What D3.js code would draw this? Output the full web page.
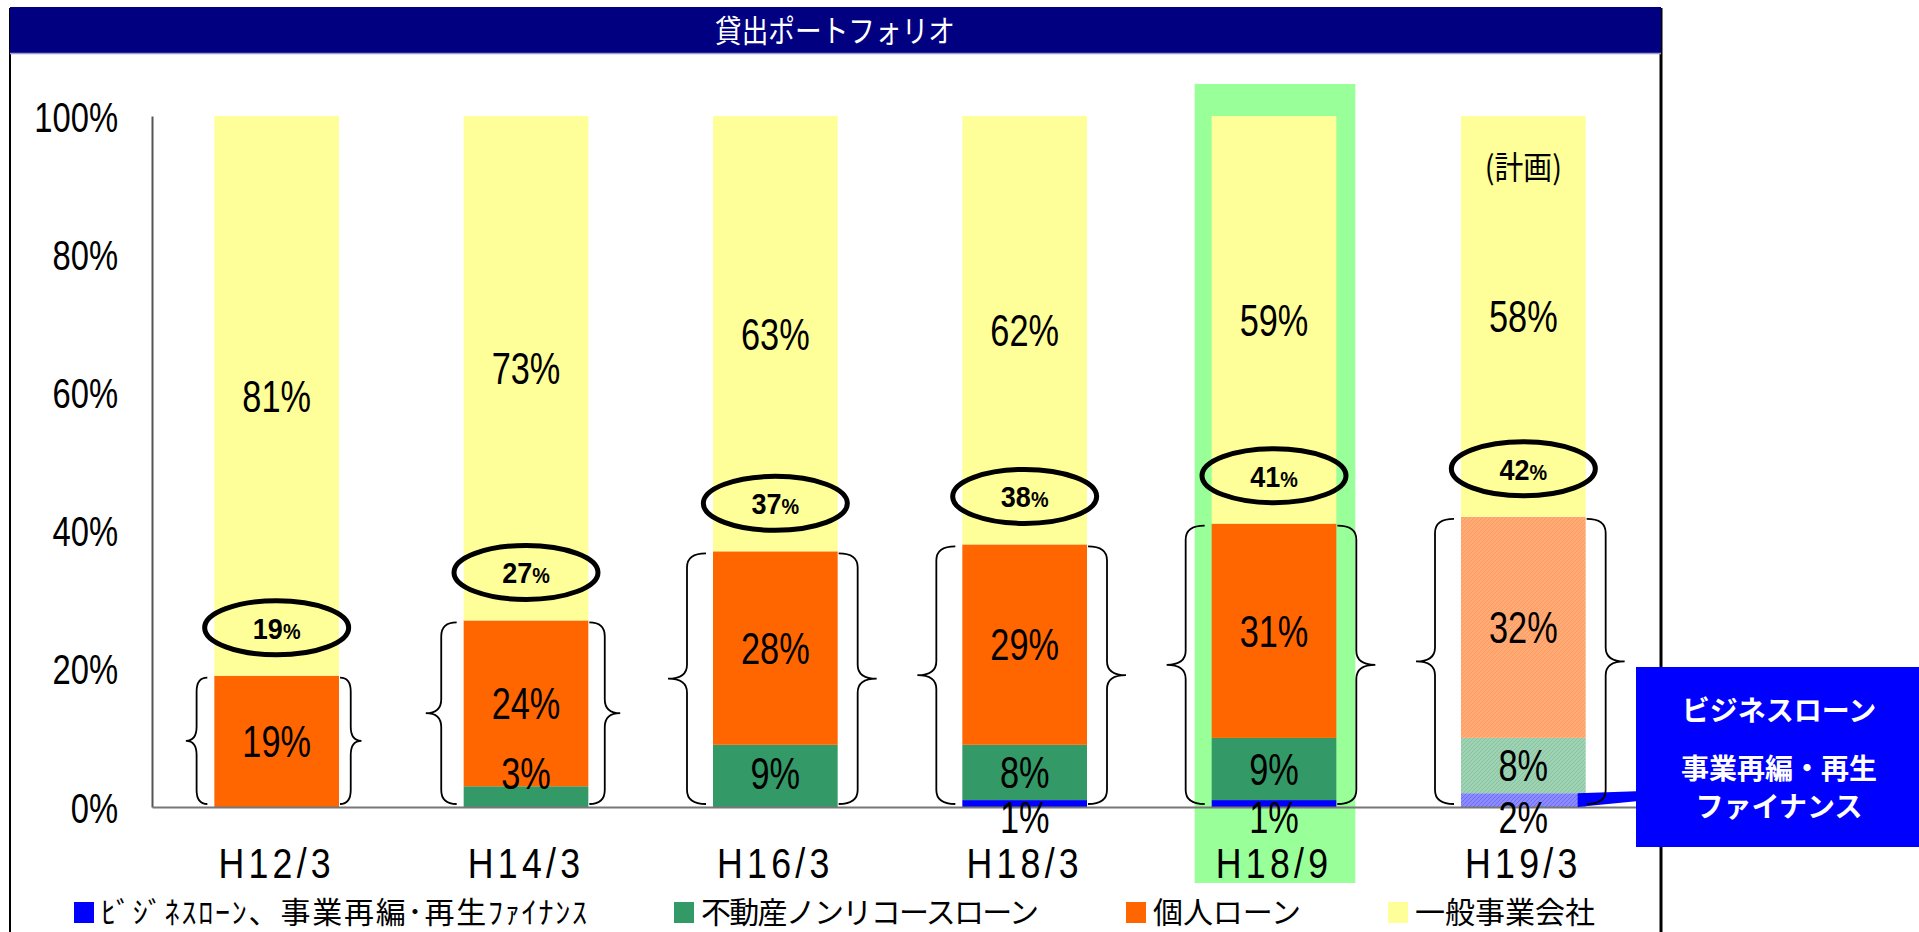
<!DOCTYPE html>
<html lang="ja">
<head>
<meta charset="utf-8">
<title>貸出ポートフォリオ</title>
<script src="https://d3js.org/d3.v7.min.js"></script>
<style>
    body { margin: 0; background: #fff; }
    svg { display: block; }
    .num { font-family: "Liberation Sans", Arial, sans-serif; fill: #000; }
    .jp { font-family: "Noto Sans CJK JP", sans-serif; }
</style>
</head>
<body>
<div id="chart"></div>
<script>
    "use strict"

    // data
    var categories = ["H12/3", "H14/3", "H16/3", "H18/3", "H18/9", "H19/3"];
    var bizLoan = [0, 0, 0, 1, 1, 2];          // ビジネスローン、事業再編・再生ファイナンス
    var nonRecourse = [0, 3, 9, 8, 9, 8];      // 不動産ノンリコースローン
    var personal = [19, 24, 28, 29, 31, 32];   // 個人ローン
    var general = [81, 73, 63, 62, 59, 58];    // 一般事業会社
    var totals = [19, 27, 37, 38, 41, 42];     // circled subtotals
    var yTicks = [0, 20, 40, 60, 80, 100];
    var seriesKeys = ["biz", "nonrec", "personal", "general"];
    var seriesNames = ["ﾋﾞｼﾞﾈｽﾛｰﾝ、事業再編･再生ﾌｧｲﾅﾝｽ", "不動産ノンリコースローン", "個人ローン", "一般事業会社"];
    var seriesColors = ["#0000ff", "#339966", "#ff6600", "#ffff99"];
    var planColors = ["#8c8cff", "#9fd1b3", "#ffab78", "#ffff99"];
    var highlightCat = "H18/9";
    var planCat = "H19/3";
    var planLabel = "(計画)";
    var title = "貸出ポートフォリオ";
    var calloutLines = ["ビジネスローン", "事業再編・再生", "ファイナンス"];

    var W = 1919, H = 932;

    var rows = categories.map(function (c, i) {
        return { cat: c, biz: bizLoan[i], nonrec: nonRecourse[i], personal: personal[i], general: general[i], total: totals[i] };
    });

    var svg = d3.select("#chart").append("svg")
        .attr("width", W).attr("height", H);

    // patterns for the planned bar
    var defs = svg.append("defs");
    seriesKeys.forEach(function (k, i) {
        var p = defs.append("pattern")
            .attr("id", "plan-" + k)
            .attr("width", 4).attr("height", 4)
            .attr("patternUnits", "userSpaceOnUse");
        p.append("rect").attr("width", 4).attr("height", 4).attr("fill", planColors[i]);
        p.append("path").attr("d", "M0,4L4,0M-1,1L1,-1M3,5L5,3")
            .attr("stroke", seriesColors[i]).attr("stroke-opacity", 0.3).attr("stroke-width", 0.8);
    });

    var x = d3.scaleBand().domain(categories).range([152, 1648]).paddingInner(0.5).paddingOuter(0.25);
    var y = d3.scaleLinear().domain([0, 100]).range([807, 116]);
    var bw = x.bandwidth();

    function ctext(parent, cx, cy, str, size, sx, cls) {
        return parent.append("text")
            .attr("class", cls || "num")
            .attr("text-anchor", "middle")
            .attr("transform", "translate(" + cx + "," + (cy + size * 0.36) + ") scale(" + sx + ",1)")
            .style("font-size", size + "px")
            .text(str);
    }

    // frame + title bar
    svg.append("line").attr("x1", 10).attr("x2", 10).attr("y1", 8).attr("y2", H)
        .attr("stroke", "#000").attr("stroke-width", 2);
    svg.append("line").attr("x1", 1661).attr("x2", 1661).attr("y1", 8).attr("y2", H)
        .attr("stroke", "#000").attr("stroke-width", 3);
    svg.append("rect").attr("x", 10).attr("y", 7).attr("width", 1651).attr("height", 46).attr("fill", "#000080");
    svg.append("line").attr("x1", 10).attr("x2", 1661).attr("y1", 53.5).attr("y2", 53.5)
        .attr("stroke", "#9a9ad8").attr("stroke-width", 1.5);
    svg.append("text")
        .attr("class", "jp")
        .attr("text-anchor", "middle")
        .attr("transform", "translate(835,42) scale(0.86,1)")
        .style("font-size", "31px").attr("fill", "#fff")
        .text(title);

    // highlight behind H18/9
    svg.append("rect")
        .attr("x", x(highlightCat) - 17).attr("y", y(100) - 32)
        .attr("width", bw + 36).attr("height", y(0) + 76 - (y(100) - 32))
        .attr("fill", "#99ff99");

    // stacked bars
    var stack = d3.stack().keys(seriesKeys)(rows);
    var plot = svg.append("g");
    stack.forEach(function (layer, si) {
        plot.append("g").selectAll("rect")
            .data(layer)
            .join("rect")
            .attr("x", function (d) { return x(d.data.cat); })
            .attr("y", function (d) { return y(d[1]); })
            .attr("width", bw)
            .attr("height", function (d) { return y(d[0]) - y(d[1]); })
            .attr("fill", function (d) {
                return d.data.cat === planCat ? "url(#plan-" + seriesKeys[si] + ")" : seriesColors[si];
            });
    });

    // axes
    var yAxis = svg.append("g").attr("transform", "translate(152,0)")
        .call(d3.axisLeft(y).tickValues(yTicks).tickSize(0).tickFormat(function (d) { return d + "%"; }));
    yAxis.select(".domain").attr("stroke", "#555").attr("stroke-width", 2);
    yAxis.selectAll(".tick text")
        .attr("class", "num")
        .attr("x", -34 / 0.78).attr("dy", "0.36em")
        .attr("transform", "scale(0.78,1)")
        .style("font-size", "42px").attr("fill", "#000");

    var xAxis = svg.append("g").attr("transform", "translate(0," + y(0) + ")")
        .call(d3.axisBottom(x).tickSize(0));
    xAxis.select(".domain").attr("stroke", "#777").attr("stroke-width", 2);
    xAxis.selectAll(".tick text")
        .attr("class", "num")
        .attr("y", 56).attr("dy", "0.36em")
        .attr("transform", "scale(0.85,1)")
        .style("font-size", "42px").style("letter-spacing", "5px").attr("fill", "#000");

    // segment labels
    var labels = svg.append("g");
    stack.forEach(function (layer, si) {
        layer.forEach(function (d) {
            var v = d[1] - d[0];
            if (!v) return;
            var cx = x(d.data.cat) + bw / 2;
            var cy = y((d[0] + d[1]) / 2);
            if (si === 0) cy = y(0) + 10;
            if (si === 1) cy = Math.min(cy, y(0) - 34);
            ctext(labels, cx, cy, v + "%", 44, 0.78);
        });
    });

    // planned note
    ctext(labels, x(planCat) + bw / 2, 166, planLabel, 32, 0.9, "jp").attr("dy", "0.05em");

    // circled subtotals
    rows.forEach(function (r) {
        var cx = x(r.cat) + bw / 2, cy = y(r.total) - 48;
        svg.append("ellipse").attr("cx", cx).attr("cy", cy).attr("rx", 72).attr("ry", 27)
            .attr("fill", "none").attr("stroke", "#000").attr("stroke-width", 5);
        var t = svg.append("text")
            .attr("class", "num")
            .attr("text-anchor", "middle")
            .attr("transform", "translate(" + cx + "," + (cy + 11) + ") scale(0.9,1)")
            .style("font-weight", "bold");
        t.append("tspan").style("font-size", "30px").text(r.total);
        t.append("tspan").style("font-size", "22px").text("%");
    });

    // callout connector (under the braces)
    var pr = x(planCat) + bw;
    var bizTop = y(bizLoan[categories.indexOf(planCat)]);
    svg.append("polygon")
        .attr("points", [[pr - 8, bizTop], [1636, bizTop - 2], [1636, bizTop + 8], [pr - 8, y(0)]].join(" "))
        .attr("fill", "#0000ff");

    // braces
    function brace(xe, xt, y0, y1) {
        var xm = (xe + xt) / 2, ym = (y0 + y1) / 2, r = Math.min(14, (y1 - y0) / 5);
        return "M" + xe + "," + y0 + "Q" + xm + "," + y0 + " " + xm + "," + (y0 + r) +
            "L" + xm + "," + (ym - r) + "Q" + xm + "," + ym + " " + xt + "," + ym +
            "Q" + xm + "," + ym + " " + xm + "," + (ym + r) +
            "L" + xm + "," + (y1 - r) + "Q" + xm + "," + y1 + " " + xe + "," + y1;
    }
    rows.forEach(function (r) {
        var y0 = y(r.total) + 2, y1 = y(0) - 3;
        var w = Math.min(38, 0.17 * (y1 - y0));
        var left = x(r.cat) - 7, right = x(r.cat) + bw + 1;
        svg.append("path").attr("d", brace(left, left - w, y0, y1))
            .attr("fill", "none").attr("stroke", "#000").attr("stroke-width", 1.8);
        svg.append("path").attr("d", brace(right, right + w, y0, y1))
            .attr("fill", "none").attr("stroke", "#000").attr("stroke-width", 1.8);
    });

    // callout box
    svg.append("rect").attr("x", 1636).attr("y", 667).attr("width", W - 1636).attr("height", 180).attr("fill", "#0000ff");
    var callY = [711, 769, 807];
    calloutLines.forEach(function (s, i) {
        svg.append("text")
            .attr("class", "jp")
            .attr("text-anchor", "middle")
            .attr("x", 1779).attr("y", callY[i] + 10)
            .style("font-size", "28px").style("font-weight", "bold").attr("fill", "#fff")
            .text(s);
    });

    // legend (item slots as laid out in the original, text spread to fill each slot)
    var legendX = [74, 674, 1126, 1388];
    var legend = svg.append("g");
    seriesNames.forEach(function (name, i) {
        legend.append("rect").attr("x", legendX[i]).attr("y", 902).attr("width", 20).attr("height", 21)
            .attr("fill", seriesColors[i]);
        var t = legend.append("text")
            .attr("class", "jp")
            .attr("x", legendX[i] + 27).attr("y", 923)
            .style("font-size", "30px").attr("fill", "#000")
            .text(name);
        if (i < legendX.length - 1) {
            t.attr("textLength", legendX[i + 1] - legendX[i] - 27 - 87).attr("lengthAdjust", "spacing");
        }
    });
</script>
</body>
</html>
